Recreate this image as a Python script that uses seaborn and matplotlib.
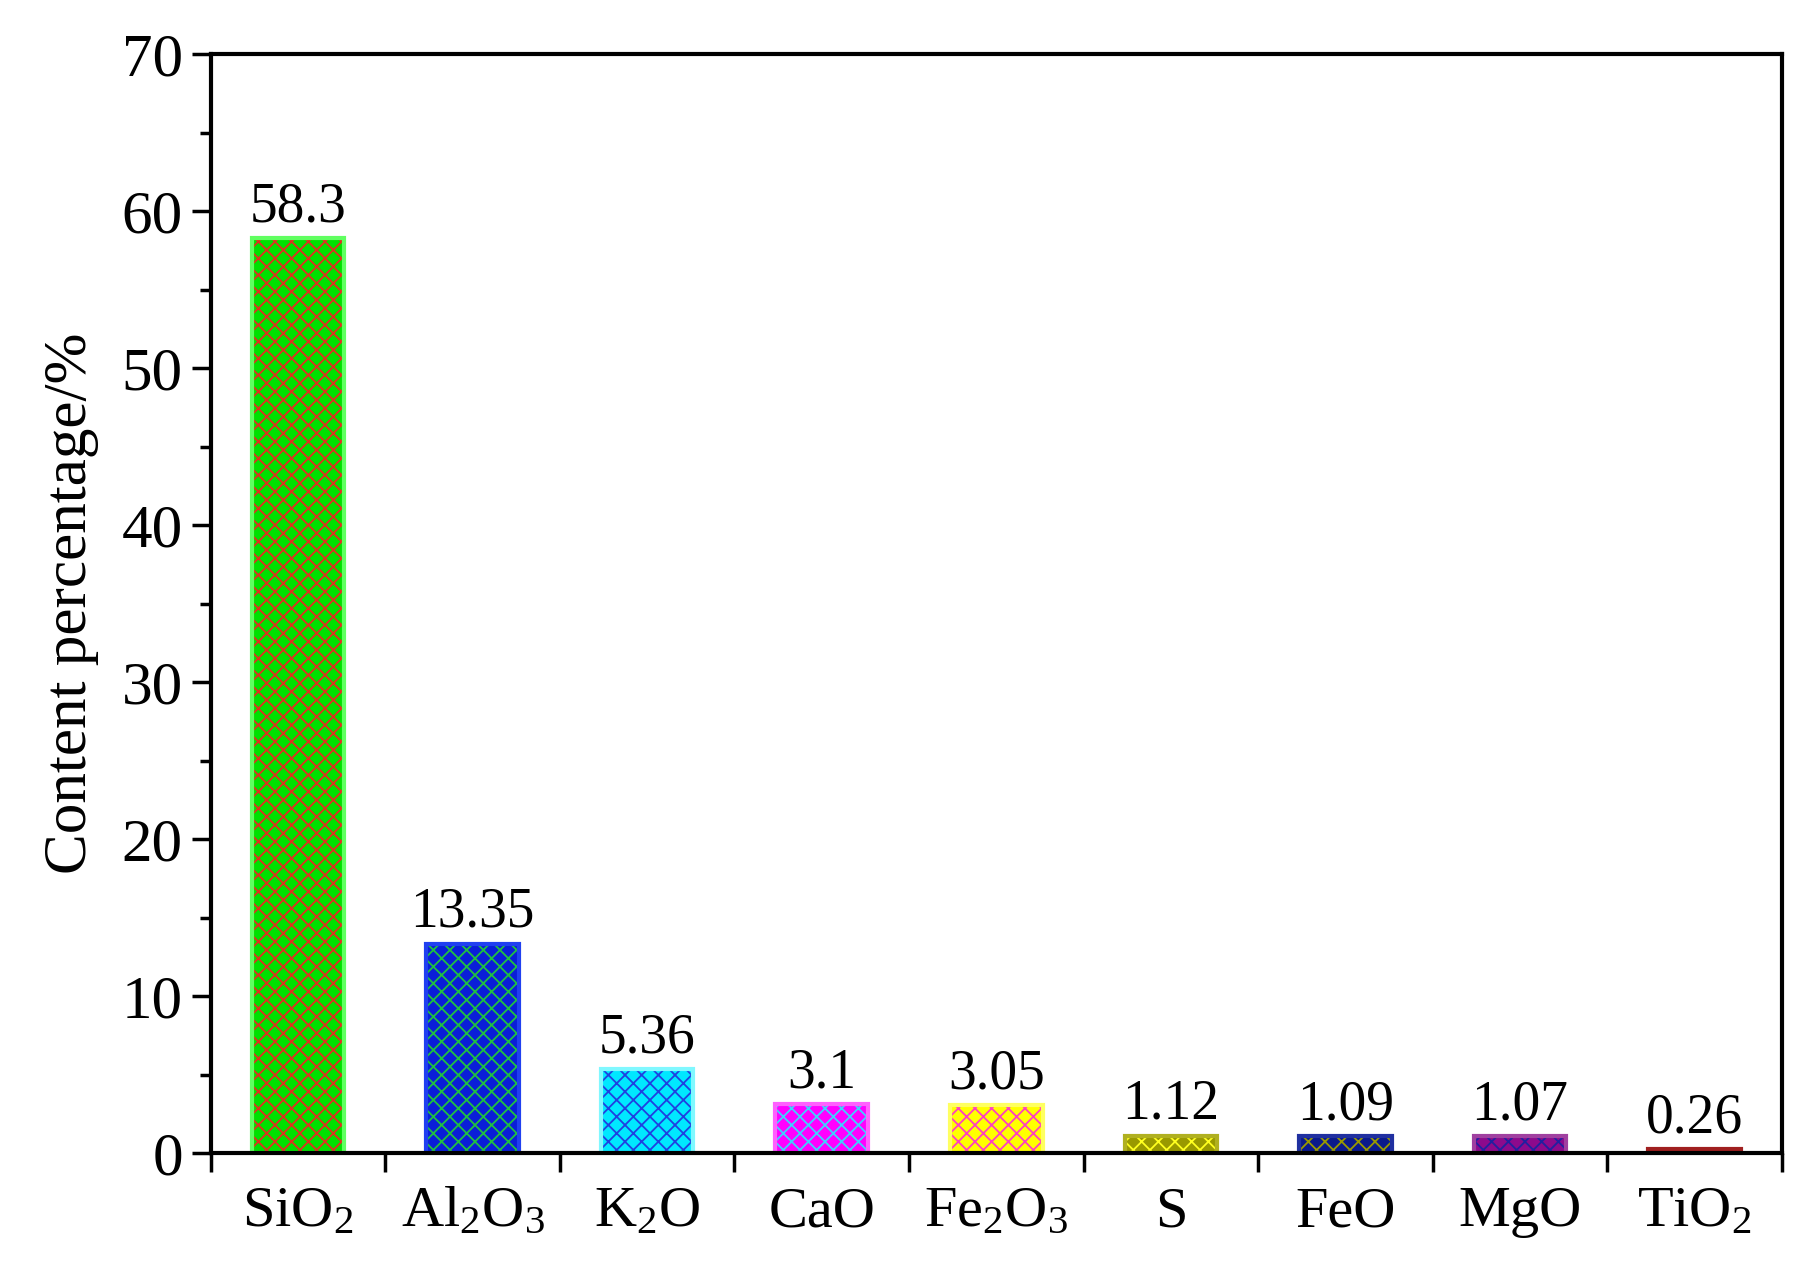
import matplotlib
matplotlib.use("Agg")
import matplotlib.pyplot as plt
import seaborn as sns
import pandas as pd

categories = ["SiO$_2$", "Al$_2$O$_3$", "K$_2$O", "CaO", "Fe$_2$O$_3$", "S", "FeO", "MgO", "TiO$_2$"]
values = [58.3, 13.35, 5.36, 3.1, 3.05, 1.12, 1.09, 1.07, 0.26]
labels = ["58.3", "13.35", "5.36", "3.1", "3.05", "1.12", "1.09", "1.07", "0.26"]
face_colors = ["#00e000", "#0a1ed8", "#00e8ff", "#ff00ff", "#ffff00", "#999900", "#0a1a8c", "#8c0a8c", "#8c0a0a"]
hatch_colors = ["#e03020", "#20c040", "#2040e0", "#40d0ff", "#ff40c0", "#ffff20", "#999900", "#2020a0", "#c02020"]
edge_colors = ["#60ff60", "#2040f0", "#80f8ff", "#ff60ff", "#ffff60", "#b0b020", "#2030a0", "#a040a0", "#a02020"]

sns.set_style("ticks")
plt.rcParams["font.family"] = ["Liberation Serif", "DejaVu Serif"]
plt.rcParams["mathtext.fontset"] = "custom"
plt.rcParams["mathtext.rm"] = "Liberation Serif"
plt.rcParams["mathtext.it"] = "Liberation Serif"
plt.rcParams["hatch.linewidth"] = 1.3
for k in ["text.color", "axes.labelcolor", "xtick.color", "ytick.color", "axes.edgecolor"]:
    plt.rcParams[k] = "black"

df = pd.DataFrame({"cat": categories, "val": values})
fig = plt.figure(figsize=(18, 12.63), dpi=100)
ax = fig.add_axes([0.117, 0.087, 0.873, 0.87])
sns.barplot(data=df, x="cat", y="val", hue="cat", palette=face_colors, legend=False,
            width=0.53, ax=ax, saturation=1)
for p, hc in zip(ax.patches, hatch_colors):
    p.set_hatch("xx")
    p.set_edgecolor(hc)
    p.set_linewidth(0)
x = list(range(len(values)))
ax.bar(x, values, width=0.53, fill=False, edgecolor=edge_colors, linewidth=3)
for xi, v, t in zip(x, values, labels):
    ax.text(xi, v + 0.3, t, ha="center", va="bottom", fontsize=40)

ax.set_xlim(-0.5, 8.5)
ax.set_ylim(0, 70)
ax.set_yticks(range(0, 71, 10))
ax.set_yticks(range(5, 70, 10), minor=True)
ax.set_xticks([i - 0.5 for i in range(10)], minor=True)
ax.tick_params(axis="x", which="major", length=0, labelsize=42, pad=24)
ax.tick_params(axis="x", which="minor", length=14, width=2.5, direction="out")
ax.tick_params(axis="y", which="major", length=14, width=2.5, labelsize=44, direction="out", pad=6)
ax.tick_params(axis="y", which="minor", length=8, width=2.5, direction="out")
for s in ax.spines.values():
    s.set_linewidth(3)
    s.set_visible(True)
ax.set_xlabel("")
ax.set_ylabel("Content percentage/%", fontsize=44, labelpad=16)
fig.savefig("out.png", dpi=100)
